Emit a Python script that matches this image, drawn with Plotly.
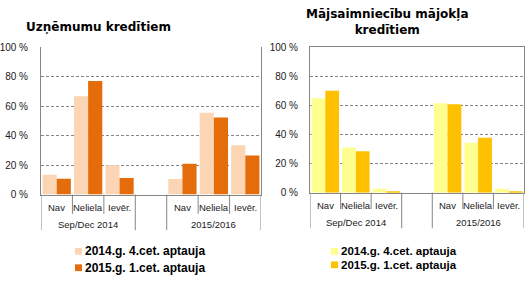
import plotly.graph_objects as go

# ---- data ----
categories = ["Nav", "Neliela", "Ievēr."]
groups = ["Sep/Dec 2014", "2015/2016"]
series_names = ["2014.g. 4.cet. aptauja", "2015.g. 1.cet. aptauja"]

# Uzņēmumu kredītiem (%), order: group1 cats, group2 cats
firms_2014q4 = [13.5, 66.7, 20.0, 10.6, 55.6, 33.5]
firms_2015q1 = [10.8, 77.2, 11.3, 21.0, 52.3, 26.5]
# Mājsaimniecību mājokļa kredītiem (%)
house_2014q4 = [64.9, 31.1, 2.6, 61.6, 34.4, 2.6]
house_2015q1 = [70.2, 28.5, 1.0, 60.9, 37.7, 1.0]

titles = ["Uzņēmumu kredītiem", "Mājsaimniecību mājokļa<br>kredītiem"]
y_ticks = [0, 20, 40, 60, 80, 100]

W, H = 528, 292
colors_left = ["#FCD5B5", "#E46C0A"]
colors_right = ["#FFFF8F", "#FFC000"]
GRAY = "#868686"
TXT = "#1a1a1a"

keys = [f"{g}|{c}" for g in groups for c in categories]
cat_array = keys[:3] + ["gap"] + keys[3:]

def py(px):
    return 1 - px / H

def px_x(px):
    return px / W

panels = [
    dict(xa="x", ya="y", xdom=[41, 261], ytop=44, ybot=197, data=[firms_2014q4, firms_2015q1],
         colors=colors_left, cat_y=210, grp_y=228, short=217, long=234, mirror_x=False,
         standoff=10, leg_x=75, leg_y=[256, 273], leg_font=12),
    dict(xa="x2", ya="y2", xdom=[310, 524], ytop=44, ybot=195, data=[house_2014q4, house_2015q1],
         colors=colors_right, cat_y=208, grp_y=226, short=212, long=232, mirror_x=True,
         standoff=9, leg_x=331, leg_y=[256, 270], leg_font=11.5),
]

fig = go.Figure()
shapes = []
annotations = []

for i, p in enumerate(panels):
    for s, (vals, col, name) in enumerate(zip(p["data"], p["colors"], series_names)):
        fig.add_trace(go.Bar(x=keys, y=vals, name=name, marker=dict(color=col, line=dict(width=0)),
                             xaxis=p["xa"], yaxis=p["ya"], showlegend=False))
    sfx = "" if i == 0 else "2"
    fig.update_layout(**{
        "xaxis" + sfx: dict(type="category", categoryarray=cat_array, categoryorder="array",
                            range=[-0.5, 6.5], domain=[px_x(p["xdom"][0]), px_x(p["xdom"][1])],
                            showticklabels=False, ticks="", showgrid=False, zeroline=False,
                            showline=True, linecolor=GRAY, linewidth=1, mirror=p["mirror_x"],
                            anchor=p["ya"], fixedrange=True),
        "yaxis" + sfx: dict(range=[0, 100], domain=[py(p["ybot"]), py(p["ytop"])],
                            tickvals=y_ticks, ticktext=[f"{v} %" for v in y_ticks],
                            tickfont=dict(family="Liberation Sans, Arial", size=10, color=TXT),
                            showgrid=True, gridcolor=GRAY, griddash="3px,2px", gridwidth=1,
                            zeroline=False, showline=True, linecolor=GRAY, linewidth=1,
                            mirror=True, ticks="", ticklabelstandoff=p["standoff"],
                            anchor=p["xa"], fixedrange=True),
    })
    xr = p["xa"]
    # divider lines under the category axis
    for b in [-0.5, 2.5, 3.5, 6.5]:
        shapes.append(dict(type="line", xref=xr, yref="paper", x0=b, x1=b,
                           y0=py(p["ybot"]), y1=py(p["long"]), line=dict(color=GRAY, width=1)))
    for b in [0.5, 1.5, 4.5, 5.5]:
        shapes.append(dict(type="line", xref=xr, yref="paper", x0=b, x1=b,
                           y0=py(p["ybot"]), y1=py(p["short"]), line=dict(color=GRAY, width=1)))
    # category labels
    for k in keys:
        annotations.append(dict(x=k, xref=xr, y=py(p["cat_y"]), yref="paper", showarrow=False,
                                text=k.split("|")[1], xanchor="center", yanchor="middle",
                                font=dict(family="Liberation Sans, Arial", size=9.5, color=TXT)))
    for g in groups:
        annotations.append(dict(x=f"{g}|{categories[1]}", xref=xr, y=py(p["grp_y"]), yref="paper",
                                showarrow=False, text=g, xanchor="center", yanchor="middle",
                                font=dict(family="Liberation Sans, Arial", size=9.5, color=TXT)))
    # legend (manual)
    for s, name in enumerate(series_names):
        yc = p["leg_y"][s]
        shapes.append(dict(type="rect", xref="paper", yref="paper",
                           x0=px_x(p["leg_x"]), x1=px_x(p["leg_x"] + 7),
                           y0=py(yc + 3.5), y1=py(yc - 3.5),
                           fillcolor=p["colors"][s], line=dict(width=0)))
        annotations.append(dict(x=px_x(p["leg_x"] + 8.5), xref="paper", y=py(yc), yref="paper",
                                showarrow=False, text=f"<b>{name}</b>", xanchor="left", yanchor="middle",
                                borderpad=0,
                                font=dict(family="Liberation Sans, Arial", size=p["leg_font"], color="#000000")))

# titles
annotations.append(dict(x=px_x(24), xref="paper", y=py(23), yref="paper", showarrow=False,
                        text=f"<b>{titles[0]}</b>", xanchor="left", yanchor="middle",
                        font=dict(family="DejaVu Sans", size=12, color="#000000")))
annotations.append(dict(x=px_x(387), xref="paper", y=py(18), yref="paper", showarrow=False,
                        text=f"<b>{titles[1]}</b>", xanchor="center", yanchor="middle", align="center",
                        font=dict(family="DejaVu Sans", size=12, color="#000000")))

fig.update_layout(
    width=W, height=H, margin=dict(l=0, r=0, t=0, b=0),
    paper_bgcolor="white", plot_bgcolor="white",
    barmode="group", bargap=0.1, bargroupgap=0,
    showlegend=False, shapes=shapes, annotations=annotations,
)

fig.write_html("out.html", config={"displayModeBar": False})
